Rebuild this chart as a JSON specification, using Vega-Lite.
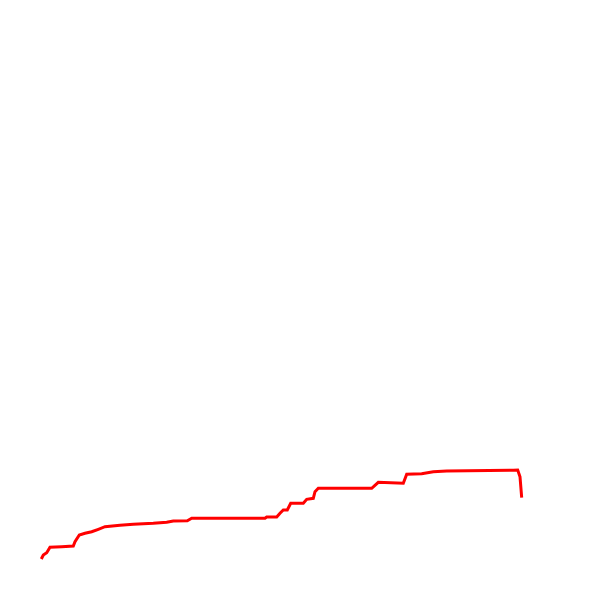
{
  "$schema": "https://vega.github.io/schema/vega-lite/v6.json",
  "width": 600,
  "height": 600,
  "autosize": {"type": "fit", "contains": "padding"},
  "padding": 0,
  "background": "white",
  "config": {"view": {"stroke": null}},
  "data": {"values": [
    {"t": 41.3, "v": 41.0},
    {"t": 43.3, "v": 45.0},
    {"t": 46.7, "v": 47.3},
    {"t": 50.0, "v": 52.7},
    {"t": 61.7, "v": 53.3},
    {"t": 73.3, "v": 54.0},
    {"t": 75.0, "v": 58.3},
    {"t": 79.3, "v": 65.0},
    {"t": 85.0, "v": 66.7},
    {"t": 91.7, "v": 68.3},
    {"t": 98.3, "v": 70.7},
    {"t": 105.0, "v": 73.3},
    {"t": 120.0, "v": 74.7},
    {"t": 133.3, "v": 75.7},
    {"t": 153.3, "v": 76.7},
    {"t": 166.7, "v": 77.7},
    {"t": 173.3, "v": 79.0},
    {"t": 187.3, "v": 79.3},
    {"t": 191.7, "v": 81.7},
    {"t": 265.0, "v": 81.7},
    {"t": 266.7, "v": 83.0},
    {"t": 276.7, "v": 83.0},
    {"t": 280.0, "v": 86.7},
    {"t": 283.3, "v": 90.0},
    {"t": 287.3, "v": 90.0},
    {"t": 290.7, "v": 96.7},
    {"t": 303.3, "v": 96.7},
    {"t": 306.7, "v": 100.7},
    {"t": 313.3, "v": 101.7},
    {"t": 315.0, "v": 108.3},
    {"t": 318.3, "v": 111.7},
    {"t": 350.0, "v": 111.7},
    {"t": 371.7, "v": 111.7},
    {"t": 378.3, "v": 117.7},
    {"t": 403.3, "v": 116.7},
    {"t": 406.7, "v": 125.7},
    {"t": 421.7, "v": 126.3},
    {"t": 433.3, "v": 128.3},
    {"t": 446.7, "v": 129.0},
    {"t": 513.3, "v": 129.7},
    {"t": 517.7, "v": 130.0},
    {"t": 520.0, "v": 123.3},
    {"t": 521.7, "v": 102.3}
  ]},
  "mark": {"type": "line", "color": "#ff0000", "strokeWidth": 3},
  "encoding": {
    "x": {"field": "t", "type": "quantitative", "scale": {"domain": [0, 600], "nice": false, "zero": false}, "axis": null},
    "y": {"field": "v", "type": "quantitative", "scale": {"domain": [0, 600], "nice": false, "zero": false}, "axis": null}
  }
}
